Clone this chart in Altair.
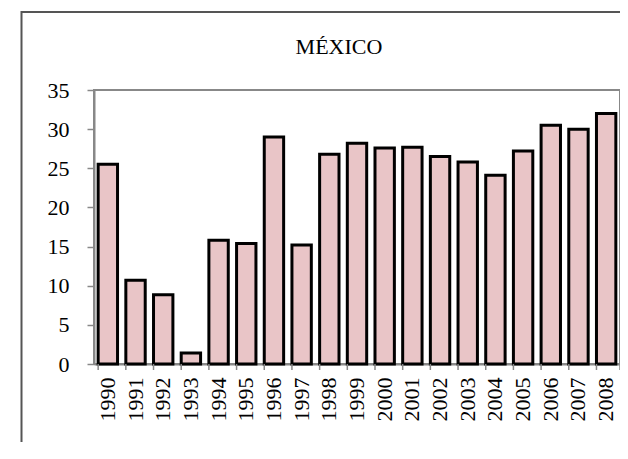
import altair as alt
import pandas as pd

years = ["1990", "1991", "1992", "1993", "1994", "1995", "1996", "1997", "1998", "1999",
         "2000", "2001", "2002", "2003", "2004", "2005", "2006", "2007", "2008"]
values = [25.5, 10.7, 8.85, 1.4, 15.8, 15.4, 29.0, 15.2, 26.8, 28.2,
          27.6, 27.7, 26.5, 25.8, 24.1, 27.2, 30.5, 30.0, 32.0]
title_text = "MÉXICO"
y_ticks = [0, 5, 10, 15, 20, 25, 30, 35]

df = pd.DataFrame({"year": years, "value": values})

FONT = "'Liberation Serif', 'Times New Roman', Times, 'DejaVu Serif', serif"
W, H = 526, 274

xscale = alt.Scale(paddingInner=0.3, paddingOuter=0.15)

bars = alt.Chart(df).mark_bar(
    fill="#e9c5c7", stroke="black", strokeWidth=3
).encode(
    x=alt.X("year:N", sort=years, scale=xscale,
            axis=alt.Axis(title=None, labelAngle=-90, labelFont=FONT, labelFontSize=22,
                          labelColor="black", ticks=False, domain=True,
                          domainColor="#888888", domainWidth=2, labelPadding=13)),
    y=alt.Y("value:Q", scale=alt.Scale(domain=[0, 35], nice=False),
            axis=alt.Axis(title=None, values=y_ticks, labelFont=FONT, labelFontSize=22,
                          labelColor="black", tickColor="#888888", tickSize=7, tickWidth=1.5,
                          domainColor="#888888", domainWidth=2, labelPadding=18, grid=False)),
)

xticks = alt.Chart(df).mark_rule(color="#888888", strokeWidth=1.5).encode(
    x=alt.X("year:N", sort=years, scale=xscale, bandPosition=0),
    y=alt.value(H),
    y2=alt.value(H + 6),
)

last_tick = alt.Chart(df.head(1)).mark_rule(color="#888888", strokeWidth=1.5).encode(
    x=alt.value(W), y=alt.value(H), y2=alt.value(H + 6)
)

title = alt.Chart(df.head(1)).mark_text(
    text=title_text, font=FONT, fontSize=22, color="black",
    align="center", baseline="alphabetic"
).encode(x=alt.value(245), y=alt.value(-36))

border = alt.Chart(df.head(1)).mark_rect(
    filled=False, stroke="#555555", strokeWidth=2, clip=False
).encode(
    x=alt.value(-72.5), x2=alt.value(700), y=alt.value(-78), y2=alt.value(600)
)

chart = alt.layer(border, bars, xticks, last_tick, title).properties(
    width=W, height=H,
    autosize=alt.AutoSizeParams(type="none"),
    padding={"left": 86, "top": 82, "right": 0, "bottom": 78},
    background="white",
).configure_view(stroke="#888888", strokeWidth=2)

chart.save("out.html", embed_options={"renderer": "svg", "actions": False})
